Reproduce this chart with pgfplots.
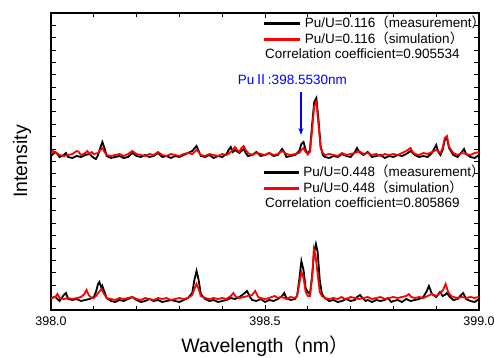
\documentclass[border=0pt]{standalone}
\usepackage{pgfplots}
\pgfplotsset{compat=1.18}
\usetikzlibrary{arrows.meta}
\usepackage{fontspec}
\setmainfont{Liberation Sans}
\newfontfamily\jp{Noto Sans CJK JP}

\pgfplotstableread{
x y
398.000 154
398.005 156
398.010 158
398.015 156
398.020 153
398.030 155
398.035 157
398.040 153
398.050 152
398.060 154
398.070 153
398.080 155
398.090 156
398.100 152
398.105 151
398.110 155
398.115 162
398.120 168
398.125 162
398.130 154
398.140 152
398.150 153
398.160 154
398.170 152
398.180 153
398.190 157
398.200 154
398.210 153
398.220 155
398.230 153
398.240 154
398.250 157
398.260 153
398.270 154
398.280 152
398.290 154
398.300 153
398.310 155
398.320 157
398.330 159
398.340 164
398.345 159
398.350 154
398.360 153
398.370 155
398.380 152
398.390 154
398.400 153
398.410 156
398.415 160
398.420 163
398.425 158
398.430 160
398.440 157
398.450 161
398.455 157
398.460 154
398.470 155
398.480 158
398.490 154
398.500 155
398.510 157
398.520 154
398.530 155
398.540 161
398.545 158
398.550 153
398.560 154
398.570 155
398.580 159
398.585 166
398.590 168
398.595 160
398.600 156
398.605 160
398.610 185
398.615 208
398.620 212
398.625 190
398.630 164
398.635 155
398.640 153
398.650 152
398.660 154
398.670 153
398.680 156
398.690 154
398.700 153
398.710 158
398.715 162
398.720 158
398.730 155
398.740 158
398.750 153
398.760 154
398.770 155
398.780 152
398.790 154
398.800 153
398.810 155
398.820 154
398.830 156
398.840 159
398.850 155
398.860 153
398.870 154
398.880 153
398.890 157
398.900 165
398.905 158
398.910 155
398.915 160
398.920 170
398.925 172
398.930 162
398.940 155
398.950 153
398.960 158
398.965 161
398.970 156
398.980 153
398.990 152
399.000 155
}\topmeas

\pgfplotstableread{
x y
398.000 157
398.005 159
398.010 158
398.020 155
398.030 154
398.040 155
398.050 156
398.060 159
398.065 158
398.070 155
398.080 157
398.085 159
398.090 156
398.095 158
398.100 156
398.110 157
398.115 160
398.120 162
398.125 158
398.130 155
398.140 154
398.150 155
398.160 156
398.170 154
398.180 156
398.190 159
398.200 156
398.210 155
398.220 154
398.230 156
398.240 155
398.250 158
398.260 155
398.270 154
398.280 156
398.290 155
398.300 154
398.310 156
398.320 157
398.330 156
398.340 160
398.345 158
398.350 155
398.360 154
398.370 156
398.380 155
398.390 154
398.400 156
398.410 155
398.420 158
398.430 163
398.435 160
398.440 158
398.445 162
398.450 164
398.455 160
398.460 157
398.470 155
398.480 157
398.490 156
398.500 155
398.510 157
398.520 155
398.530 156
398.540 159
398.550 156
398.560 155
398.570 156
398.580 157
398.585 160
398.590 162
398.595 158
398.600 156
398.605 158
398.610 180
398.615 204
398.620 208
398.625 186
398.630 162
398.635 157
398.640 155
398.650 156
398.660 155
398.670 154
398.680 157
398.690 155
398.700 156
398.710 157
398.720 159
398.730 156
398.740 157
398.750 155
398.760 156
398.770 154
398.780 156
398.790 155
398.800 156
398.810 155
398.820 157
398.830 159
398.840 162
398.845 158
398.850 156
398.860 155
398.870 157
398.880 156
398.890 158
398.900 160
398.910 157
398.915 162
398.920 172
398.925 174
398.930 163
398.940 157
398.950 155
398.960 157
398.970 156
398.980 155
398.990 157
399.000 158
}\topsim

\pgfplotstableread{
x y
398.000 12
398.010 13
398.020 9
398.030 15
398.035 17
398.040 11
398.050 10
398.060 11
398.070 9
398.080 10
398.090 11
398.100 13
398.105 18
398.110 26
398.113 28
398.118 22
398.120 24
398.125 18
398.130 12
398.140 9
398.150 8
398.160 10
398.170 9
398.180 11
398.190 13
398.200 10
398.210 8
398.220 9
398.230 11
398.240 9
398.250 10
398.260 8
398.270 9
398.280 10
398.290 9
398.300 8
398.310 10
398.320 12
398.330 17
398.335 30
398.340 39
398.345 30
398.350 16
398.360 11
398.370 9
398.380 10
398.390 8
398.400 9
398.410 10
398.420 12
398.430 11
398.440 13
398.450 16
398.458 19
398.465 13
398.470 10
398.480 9
398.490 11
398.500 8
398.510 10
398.520 9
398.530 11
398.540 14
398.545 17
398.550 12
398.560 10
398.570 11
398.575 14
398.580 30
398.585 49
398.590 40
398.595 22
398.600 18
398.605 16
398.610 34
398.615 58
398.619 66
398.623 58
398.628 30
398.633 16
398.640 12
398.650 9
398.660 10
398.670 8
398.680 9
398.690 11
398.700 9
398.710 10
398.715 13
398.722 15
398.728 12
398.735 9
398.740 10
398.750 8
398.760 10
398.770 9
398.780 10
398.787 12
398.795 8
398.800 9
398.810 10
398.820 8
398.830 11
398.840 9
398.850 10
398.860 11
398.870 13
398.878 19
398.883 24
398.890 16
398.900 13
398.909 18
398.915 14
398.920 15
398.925 17
398.932 13
398.940 10
398.950 11
398.958 15
398.963 17
398.970 11
398.980 9
398.990 8
399.000 11
}\botmeas

\pgfplotstableread{
x y
398.000 12
398.010 13
398.015 16
398.020 12
398.030 11
398.040 12
398.050 11
398.060 12
398.070 13
398.078 16
398.083 20
398.088 15
398.095 12
398.100 12
398.105 14
398.112 18
398.118 21
398.124 16
398.130 12
398.140 11
398.150 10
398.160 12
398.170 11
398.180 12
398.190 13
398.200 11
398.210 10
398.220 12
398.230 11
398.240 10
398.250 12
398.260 11
398.270 12
398.280 10
398.290 11
398.300 12
398.310 11
398.320 12
398.330 15
398.335 21
398.340 26
398.345 21
398.350 14
398.360 12
398.370 11
398.380 12
398.390 11
398.400 12
398.410 11
398.420 14
398.426 17
398.432 13
398.440 12
398.450 13
398.460 14
398.470 15
398.477 19
398.484 13
398.490 12
398.500 11
398.510 12
398.515 13
398.523 14
398.530 12
398.540 13
398.550 11
398.560 13
398.570 12
398.575 14
398.580 26
398.585 38
398.590 32
398.595 18
398.600 14
398.605 14
398.610 32
398.614 61
398.618 55
398.623 36
398.628 18
398.633 14
398.640 12
398.650 11
398.660 12
398.670 11
398.679 13
398.686 11
398.695 12
398.700 13
398.710 12
398.720 11
398.730 12
398.740 13
398.750 11
398.760 12
398.770 13
398.780 11
398.790 12
398.800 13
398.810 12
398.820 13
398.830 14
398.836 16
398.842 13
398.850 12
398.860 13
398.870 12
398.880 14
398.890 16
398.900 14
398.910 17
398.916 20
398.922 26
398.928 18
398.935 14
398.940 13
398.950 12
398.960 13
398.970 12
398.980 13
398.990 12
398.998 13
399.000 14
}\botsim

\pgfplotsset{
  mylegend/.style={
    legend style={draw=none, fill=none, inner sep=0bp, outer sep=0bp,
      anchor=north west, row sep=3bp, column sep=5bp,
      font=\fontsize{13.5bp}{15bp}\selectfont,
      nodes={inner sep=0bp, text height=10bp, text depth=3bp}},
    legend cell align=left,
    legend image code/.code={\fill[##1] (0bp,-1bp) rectangle (34bp,1bp);},
  }
}

\begin{document}
\begin{tikzpicture}
\useasboundingbox (-51bp,-48bp) rectangle (443bp,310bp);
\begin{axis}[
  scale only axis, width=428bp, height=297bp,
  xmin=398, xmax=399, ymin=0, ymax=297,
  xtick={398,398.5,399}, xticklabels={398.0,398.5,399.0},
  minor xtick={398.1,398.2,398.3,398.4,398.6,398.7,398.8,398.9},
  ytick={0,12.375,...,297}, yticklabels={},
  xtick pos=both, ytick pos=both,
  tick align=inside, major tick length=5bp, minor tick length=4bp,
  tick style={black, line width=1bp},
  axis line style={line width=1.5bp},
  /pgf/number format/assume math mode=true,
  ticklabel style={font=\fontsize{12.5bp}{15bp}\selectfont},
  xticklabel style={yshift=-3bp},
  xlabel={Wavelength\kern-0.05em{\jp（}nm{\jp）}},
  ylabel={Intensity},
  label style={font=\fontsize{19.5bp}{22bp}\selectfont},
  xlabel style={at={(axis description cs:0.5,-0.142)}, anchor=base},
  ylabel style={at={(axis description cs:-0.056,0.5)}, anchor=base, rotate=0},
  mylegend,
  legend style={at={(0.4977,0.9865)}},
]
\addplot[black, line width=1.8bp] table {\topmeas};
\addlegendentry{Pu/U=0.116{\jp（}measurement{\jp）}}
\addplot[red, line width=1.8bp] table {\topsim};
\addlegendentry{Pu/U=0.116{\jp（}simulation{\jp）}}
\addplot[black, line width=1.8bp, forget plot] table {\botmeas};
\addplot[red, line width=1.8bp, forget plot] table {\botsim};
\node[anchor=base west, font=\fontsize{13.5bp}{15bp}\selectfont, inner sep=0bp] at (axis cs:398.5,251) {Correlation coefficient=0.905534};
\node[anchor=base west, font=\fontsize{13.5bp}{15bp}\selectfont, inner sep=0bp] at (axis cs:398.5,102) {Correlation coefficient=0.805869};
\node[anchor=base, blue, font=\fontsize{13.5bp}{15bp}\selectfont, inner sep=0bp] at (axis cs:398.564,225) {Pu{\jp Ⅱ}:398.5530nm};
\draw[blue, line width=1.2bp, -{Stealth[length=7bp,width=5bp]}] (axis cs:398.584,218) -- (axis cs:398.584,175);
\end{axis}
\begin{axis}[
  scale only axis, width=428bp, height=297bp,
  xmin=0, xmax=1, ymin=0, ymax=1, hide axis,
  mylegend,
  legend style={at={(0.4977,0.4848)}},
]
\addlegendimage{black}
\addlegendentry{Pu/U=0.448{\jp（}measurement{\jp）}}
\addlegendimage{red}
\addlegendentry{Pu/U=0.448{\jp（}simulation{\jp）}}
\end{axis}
\end{tikzpicture}
\end{document}
